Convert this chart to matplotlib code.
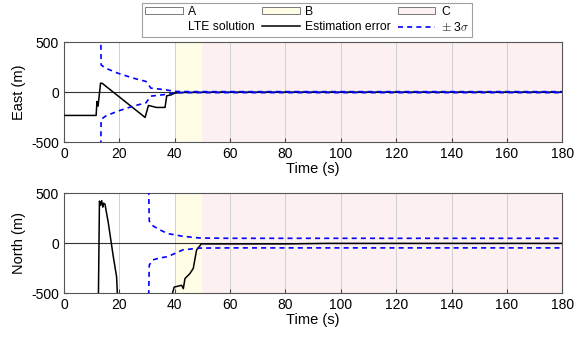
import numpy as np
import matplotlib.pyplot as plt
from matplotlib.patches import Patch
from matplotlib.lines import Line2D

plt.rcParams['font.family'] = ['Liberation Sans', 'DejaVu Sans']
plt.rcParams['mathtext.fontset'] = 'cm'
plt.rcParams['axes.unicode_minus'] = False

# region boundaries (s)
regions = [(0, 40), (40, 50), (50, 180)]
region_labels = ['A', 'B', 'C']
region_colors = ['#ffffff', '#fffde6', '#fdf0f0']

# East estimation error
east_t = [0, 11.6, 11.9, 12.3, 13.2, 13.8, 29.3, 30.5, 32.0, 33.3, 36.5, 37.1, 38.7, 40.0, 42, 60, 100, 180]
east_err = [-233, -233, -93, -140, 90, 88, -253, -133, -143, -153, -153, -37, -27, -10, -3, 0, 0, 0]
# East 3-sigma bound
east_sig_t = [12.8, 13.4, 15.0, 19.4, 25.0, 29.6, 31.4, 36.8, 40.0, 45, 60, 180]
east_sig = [2000, 273, 240, 190, 140, 107, 40, 23, 7, 5, 5, 5]

# North estimation error
north_t = [12.4, 12.8, 13.2, 13.6, 14.0, 14.3, 14.8, 16.0, 17.8, 19.0, 19.3,
           39.0, 39.8, 42.5, 43.1, 43.7, 45.5, 46.7, 47.9, 48.9, 49.6, 51, 80, 95, 180]
north_err = [-600, 420, 380, 425, 360, 400, 389, 203, -135, -338, -520,
             -520, -440, -422, -456, -355, -304, -253, -68, -34, -7, -8, -8, -3, -3]
# North 3-sigma bound
north_sig_t = [29.6, 30.8, 32.0, 34.4, 37.5, 42.9, 49.0, 60, 180]
north_sig_up = [2000, 220, 175, 135, 95, 68, 51, 48, 48]
north_sig_lo = [-2000, -220, -169, -150, -135, -68, -50, -48, -48]

fig = plt.figure(figsize=(5.82, 3.4), dpi=100)
ax1 = fig.add_axes([0.110, 0.582, 0.856, 0.294])
ax2 = fig.add_axes([0.110, 0.138, 0.856, 0.294])

dash = (0, (3, 2.5))

def style(ax, ylabel):
    for (a, b), c in zip(regions, region_colors):
        ax.axvspan(a, b, color=c, lw=0, zorder=0)
    ax.set_xlim(0, 180)
    ax.set_ylim(-500, 500)
    ax.set_xticks(np.arange(0, 181, 20))
    ax.set_yticks([-500, 0, 500])
    ax.grid(axis='x', color='#d0d0d0', lw=0.7)
    ax.set_axisbelow(True)
    ax.axhline(0, color='#333333', lw=0.8, zorder=1)
    ax.tick_params(direction='in', labelsize=10, length=3, color='#444444')
    for s in ax.spines.values():
        s.set_color('#555555')
        s.set_linewidth(0.8)
    ax.set_xlabel('Time (s)', fontsize=10.5, labelpad=1)
    ax.set_ylabel(ylabel, fontsize=10.5)

style(ax1, 'East (m)')
style(ax2, 'North (m)')

ax1.plot(east_t, east_err, color='black', lw=1.1, zorder=3)
ax1.plot(east_sig_t, east_sig, color='blue', ls=dash, lw=1.2, zorder=4)
ax1.plot(east_sig_t, [-v for v in east_sig], color='blue', ls=dash, lw=1.2, zorder=4)

ax2.plot(north_t, north_err, color='black', lw=1.1, zorder=3)
ax2.plot(north_sig_t, north_sig_up, color='blue', ls=dash, lw=1.2, zorder=4)
ax2.plot(north_sig_t, north_sig_lo, color='blue', ls=dash, lw=1.2, zorder=4)

handles = [
    Patch(facecolor=region_colors[0], edgecolor='#666666', lw=0.6), Line2D([], [], color='none'),
    Patch(facecolor=region_colors[1], edgecolor='#666666', lw=0.6), Line2D([], [], color='black', lw=1.1),
    Patch(facecolor=region_colors[2], edgecolor='#666666', lw=0.6), Line2D([], [], color='blue', ls=dash, lw=1.2),
]
labels = ['A', 'LTE solution', 'B', 'Estimation error', 'C', r'$\pm$ 3$\sigma$']
leg = fig.legend(handles, labels, ncol=3, loc='center', bbox_to_anchor=(0.528, 0.941),
                 fontsize=8.7, frameon=True, fancybox=False, edgecolor='#888888',
                 handlelength=3.1, handleheight=0.6, handletextpad=0.45, columnspacing=0.6,
                 labelspacing=0.3, borderpad=0.25, borderaxespad=0)
leg.get_frame().set_linewidth(0.8)

fig.savefig('out.png', dpi=100)
